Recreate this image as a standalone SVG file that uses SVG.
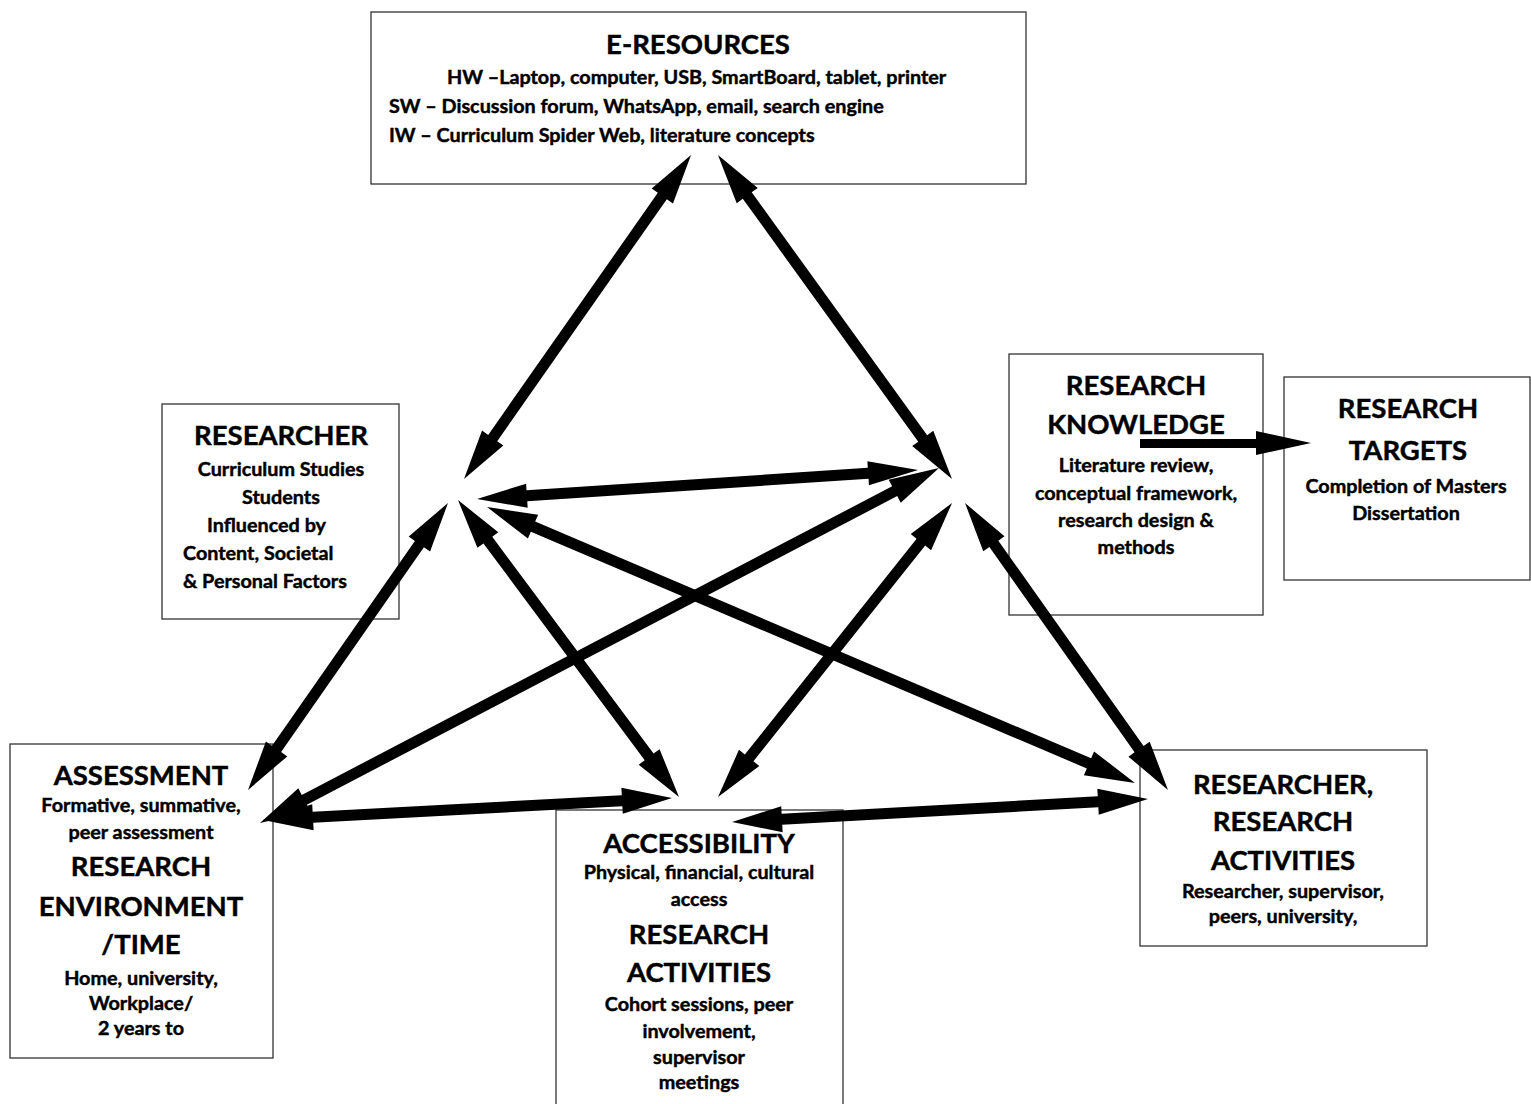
<svg xmlns="http://www.w3.org/2000/svg" width="1531" height="1104" viewBox="0 0 1531 1104">
  <style>
    .box { fill: #ffffff; stroke: #333333; stroke-width: 1.3; }
    .t { font-family: Lato, "Liberation Sans", sans-serif; font-weight: bold; fill: #000000; stroke: #000000; stroke-width: 0.45; text-anchor: middle; }
    .h { font-size: 27.5px; }
    .b { font-size: 19.8px; }
    .l { text-anchor: start; }
    .arrow { fill: #000000; }
  </style>
  <rect width="1531" height="1104" fill="#ffffff"/>

  <!-- nodes -->
  <g id="e-resources">
    <rect class="box" x="371" y="12" width="655" height="172"/>
    <text class="t h" x="698" y="54">E-RESOURCES</text>
    <text class="t b l" x="447" y="84">HW –Laptop, computer, USB, SmartBoard, tablet, printer</text>
    <text class="t b l" x="389" y="113">SW – Discussion forum, WhatsApp, email, search engine</text>
    <text class="t b l" x="389" y="142">IW – Curriculum Spider Web, literature concepts</text>
  </g>

  <g id="researcher">
    <rect class="box" x="162" y="404" width="237" height="215"/>
    <text class="t h" x="281" y="445">RESEARCHER</text>
    <text class="t b" x="281" y="476">Curriculum Studies</text>
    <text class="t b" x="281" y="504">Students</text>
    <text class="t b l" x="207" y="532">Influenced by</text>
    <text class="t b l" x="183" y="560">Content, Societal</text>
    <text class="t b l" x="183" y="588">&amp; Personal Factors</text>
  </g>

  <g id="research-knowledge">
    <rect class="box" x="1009" y="354" width="254" height="261"/>
    <text class="t h" x="1136" y="395">RESEARCH</text>
    <text class="t h" x="1136" y="434">KNOWLEDGE</text>
    <text class="t b" x="1136" y="472">Literature review,</text>
    <text class="t b" x="1136" y="500">conceptual framework,</text>
    <text class="t b" x="1136" y="527">research design &amp;</text>
    <text class="t b" x="1136" y="554">methods</text>
  </g>

  <g id="research-targets">
    <rect class="box" x="1284" y="377" width="246" height="203"/>
    <text class="t h" x="1408" y="418">RESEARCH</text>
    <text class="t h" x="1408" y="460">TARGETS</text>
    <text class="t b" x="1406" y="493">Completion of Masters</text>
    <text class="t b" x="1406" y="520">Dissertation</text>
  </g>

  <g id="assessment">
    <rect class="box" x="10" y="744" width="263" height="314"/>
    <text class="t h" x="141" y="785">ASSESSMENT</text>
    <text class="t b" x="141" y="812">Formative, summative,</text>
    <text class="t b" x="141" y="839">peer assessment</text>
    <text class="t h" x="141" y="876">RESEARCH</text>
    <text class="t h" x="141" y="916">ENVIRONMENT</text>
    <text class="t h" x="141" y="954">/TIME</text>
    <text class="t b" x="141" y="985">Home, university,</text>
    <text class="t b" x="141" y="1010">Workplace/</text>
    <text class="t b" x="141" y="1035">2 years to</text>
  </g>

  <g id="accessibility">
    <rect class="box" x="556" y="810" width="287" height="300"/>
    <text class="t h" x="699" y="853">ACCESSIBILITY</text>
    <text class="t b" x="699" y="879">Physical, financial, cultural</text>
    <text class="t b" x="699" y="906">access</text>
    <text class="t h" x="699" y="944">RESEARCH</text>
    <text class="t h" x="699" y="982">ACTIVITIES</text>
    <text class="t b" x="699" y="1011">Cohort sessions, peer</text>
    <text class="t b" x="699" y="1038">involvement,</text>
    <text class="t b" x="699" y="1064">supervisor</text>
    <text class="t b" x="699" y="1089">meetings</text>
  </g>

  <g id="researcher-research-activities">
    <rect class="box" x="1140" y="750" width="287" height="196"/>
    <text class="t h" x="1283" y="794">RESEARCHER,</text>
    <text class="t h" x="1283" y="831">RESEARCH</text>
    <text class="t h" x="1283" y="870">ACTIVITIES</text>
    <text class="t b" x="1283" y="898">Researcher, supervisor,</text>
    <text class="t b" x="1283" y="923">peers, university,</text>
  </g>

  <!-- connectors: double-headed block arrows drawn along local x axis -->
  <g id="connectors" class="arrow">
    <polygon transform="translate(464,479) rotate(-54.98)" points="0,0 50,-13 50,-5.5 345.6,-5.5 345.6,-13 395.6,0 345.6,13 345.6,5.5 50,5.5 50,13"/>
    <polygon transform="translate(952,479) rotate(-125.84)" points="0,0 50,-13 50,-5.5 349.7,-5.5 349.7,-13 399.7,0 349.7,13 349.7,5.5 50,5.5 50,13"/>
    <polygon transform="translate(477,499) rotate(-3.76)" points="0,0 50,-12 50,-5.5 392,-5.5 392,-12 442,0 392,12 392,5.5 50,5.5 50,12"/>
    <polygon transform="translate(260,823) rotate(-27.6)" points="0,0 50,-13 50,-5.5 716.2,-5.5 716.2,-13 766.2,0 716.2,13 716.2,5.5 50,5.5 50,13"/>
    <polygon transform="translate(487,507) rotate(23.07)" points="0,0 50,-13 50,-5.5 654.3,-5.5 654.3,-13 704.3,0 654.3,13 654.3,5.5 50,5.5 50,13"/>
    <polygon transform="translate(248,790) rotate(-55.13)" points="0,0 50,-13 50,-5.5 299.8,-5.5 299.8,-13 349.8,0 299.8,13 299.8,5.5 50,5.5 50,13"/>
    <polygon transform="translate(458,500) rotate(53.35)" points="0,0 50,-13 50,-5.5 320.2,-5.5 320.2,-13 370.2,0 320.2,13 320.2,5.5 50,5.5 50,13"/>
    <polygon transform="translate(718,797) rotate(-51.48)" points="0,0 50,-13 50,-5.5 325.8,-5.5 325.8,-13 375.8,0 325.8,13 325.8,5.5 50,5.5 50,13"/>
    <polygon transform="translate(965,503) rotate(54.73)" points="0,0 50,-13 50,-5.5 301.5,-5.5 301.5,-13 351.5,0 301.5,13 301.5,5.5 50,5.5 50,13"/>
    <polygon transform="translate(263,820) rotate(-3.08)" points="0,0 50,-13 50,-5.5 359.6,-5.5 359.6,-13 409.6,0 359.6,13 359.6,5.5 50,5.5 50,13"/>
    <polygon transform="translate(732,822) rotate(-3.16)" points="0,0 50,-13 50,-5.5 366.6,-5.5 366.6,-13 416.6,0 366.6,13 366.6,5.5 50,5.5 50,13"/>
    <!-- single arrow: knowledge to targets -->
    <polygon points="1140,439 1256,439 1256,431 1311,443 1256,455 1256,448 1140,448"/>
  </g>
</svg>
